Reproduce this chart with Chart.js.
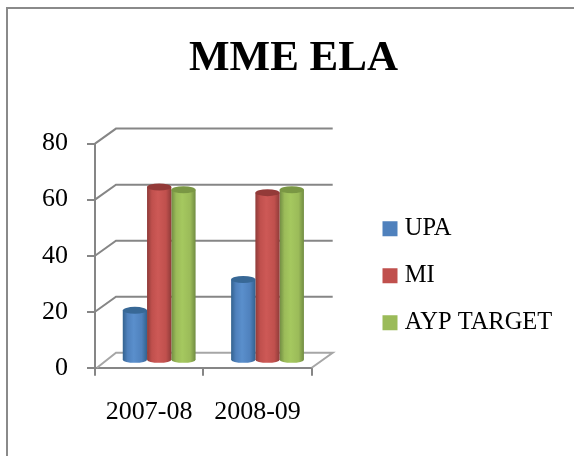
<!DOCTYPE html>
<html lang="en">
<head>
<meta charset="UTF-8">
<title>MME ELA</title>
<script src="https://cdn.jsdelivr.net/npm/chart.js"></script>
<style>
    html, body { margin: 0; padding: 0; background: #fff; overflow: hidden; }
    #frame {
        position: absolute; left: 6px; top: 7px; right: 0; bottom: 0;
        border-left: 2px solid #8a8a8a; border-top: 2px solid #8a8a8a;
    }
    #chart { display: block; }
</style>
</head>
<body>
<div id="frame"><canvas id="chart" width="566" height="447"></canvas></div>
<script>
const categories = ['2007-08', '2008-09'];
const seriesNames = ['UPA', 'MI', 'AYP TARGET'];
const upaValues = [18, 29];
const miValues = [62, 60];
const aypValues = [61, 61];

const baseColors = ['#4f81bd', '#c0504d', '#9bbb59'];
const lightColors = ['#5a8fcc', '#cd5956', '#a5c85f'];
const darkColors = ['#33628f', '#8f3b39', '#718c42'];
const capColors = ['#386896', '#933a38', '#7a9744'];

const FONT = '"Liberation Serif", serif';
const AXIS = '#868686';
const CAT_PCT = 0.672;
// depth of the fake 3d box
const DEPTH_X = 21, DEPTH_Y = 15;
const BAR_DX = 10, BAR_DY = 7;

function barGradient(ctx) {
    const chart = ctx.chart, x = chart.scales.x;
    if (!x) return baseColors[ctx.datasetIndex];
    const cw = x.width / categories.length;
    const w = cw * CAT_PCT / seriesNames.length;
    const left = x.getPixelForValue(ctx.dataIndex) + (ctx.datasetIndex - 1.5) * w;
    const g = chart.ctx.createLinearGradient(left, 0, left + w, 0);
    const i = ctx.datasetIndex;
    g.addColorStop(0, darkColors[i]);
    g.addColorStop(0.2, baseColors[i]);
    g.addColorStop(0.45, lightColors[i]);
    g.addColorStop(0.78, baseColors[i]);
    g.addColorStop(1, darkColors[i]);
    return g;
}

const box3d = {
    id: 'box3d',
    afterLayout(chart) {
        // legend and title do not follow the plot in the original, so place them by hand
        const legend = chart.legend;
        legend.left = 352;
        legend.right = 566;
        legend.top = 185;
        chart.titleBlock.left = 0;
        chart.titleBlock.right = 571;
    },
    beforeDatasetsDraw(chart) {
        const { ctx, chartArea: a, scales: { y } } = chart;
        ctx.save();
        ctx.lineWidth = 2;
        y.ticks.forEach(t => {
            const py = y.getPixelForValue(t.value);
            ctx.beginPath();
            if (t.value === 0) {
                ctx.strokeStyle = '#a6a6a6';
                ctx.moveTo(a.left + 2, py);
                ctx.lineTo(a.left + DEPTH_X, py - DEPTH_Y);
                ctx.lineTo(a.right + DEPTH_X, py - DEPTH_Y);
                ctx.lineTo(a.right, py);
            } else {
                ctx.strokeStyle = AXIS;
                ctx.moveTo(a.left, py);
                ctx.lineTo(a.left + DEPTH_X, py - DEPTH_Y);
                ctx.lineTo(a.right + DEPTH_X, py - DEPTH_Y);
            }
            ctx.stroke();
        });
        ctx.restore();
        // bars stand halfway back in the box
        ctx.save();
        ctx.translate(BAR_DX, -BAR_DY);
        chart.data.datasets.forEach((ds, i) => {
            chart.getDatasetMeta(i).data.forEach((bar, j) => {
                ctx.fillStyle = barGradient({ chart, datasetIndex: i, dataIndex: j });
                ctx.beginPath();
                ctx.ellipse(bar.x, bar.base, bar.width / 2, 3, 0, 0, Math.PI * 2);
                ctx.fill();
            });
        });
    },
    afterDatasetsDraw(chart) {
        const { ctx } = chart;
        chart.data.datasets.forEach((ds, i) => {
            chart.getDatasetMeta(i).data.forEach(bar => {
                ctx.fillStyle = capColors[i];
                ctx.beginPath();
                ctx.ellipse(bar.x, bar.y, bar.width / 2, 3.5, 0, 0, Math.PI * 2);
                ctx.fill();
            });
        });
        ctx.restore();
    },
    afterDraw(chart) {
        // legend swatches: the library ties the text gap to the box width, so the
        // native boxes stay narrow and transparent and the real ones go here
        const { ctx } = chart;
        chart.legend.legendHitBoxes.forEach((hit, i) => {
            ctx.fillStyle = baseColors[i];
            ctx.fillRect(hit.left, hit.top + (hit.height - 15) / 2, 15, 15);
        });
    }
};

const seriesValues = [upaValues, miValues, aypValues];

new Chart(document.getElementById('chart'), {
    type: 'bar',
    data: {
        labels: categories,
        datasets: seriesNames.map((name, i) => ({
            label: name,
            data: seriesValues[i],
            backgroundColor: barGradient,
            barPercentage: 1,
            categoryPercentage: CAT_PCT
        }))
    },
    options: {
        responsive: false,
        animation: false,
        layout: { padding: { left: 5, right: 60, top: 0, bottom: 7 } },
        plugins: {
            tooltip: { enabled: false },
            title: {
                display: true,
                text: 'MME ELA',
                color: '#000',
                font: { family: FONT, size: 43, weight: 'bold' },
                padding: { top: 24, bottom: 59 }
            },
            legend: {
                position: 'right',
                align: 'start',
                maxWidth: 217,
                labels: {
                    color: '#000',
                    font: { family: FONT, size: 24.5 },
                    boxWidth: 10,
                    boxHeight: 15,
                    padding: 22.5,
                    generateLabels: chart => seriesNames.map((name, i) => ({
                        text: name,
                        fillStyle: 'rgba(0,0,0,0)',
                        strokeStyle: 'rgba(0,0,0,0)',
                        lineWidth: 0,
                        datasetIndex: i
                    }))
                }
            }
        },
        scales: {
            x: {
                grid: { drawOnChartArea: false, color: AXIS, lineWidth: 2, tickLength: 8 },
                border: { color: AXIS, width: 2 },
                ticks: { color: '#000', font: { family: FONT, size: 26 }, padding: 21, maxRotation: 0 }
            },
            y: {
                min: 0,
                max: 80,
                afterFit(scale) { scale.width = 82; },
                grid: { drawOnChartArea: false, color: AXIS, lineWidth: 2, tickLength: 8 },
                border: { color: AXIS, width: 2 },
                ticks: { color: '#000', font: { family: FONT, size: 26 }, stepSize: 20, padding: 19 }
            }
        }
    },
    plugins: [box3d]
});
</script>
</body>
</html>
